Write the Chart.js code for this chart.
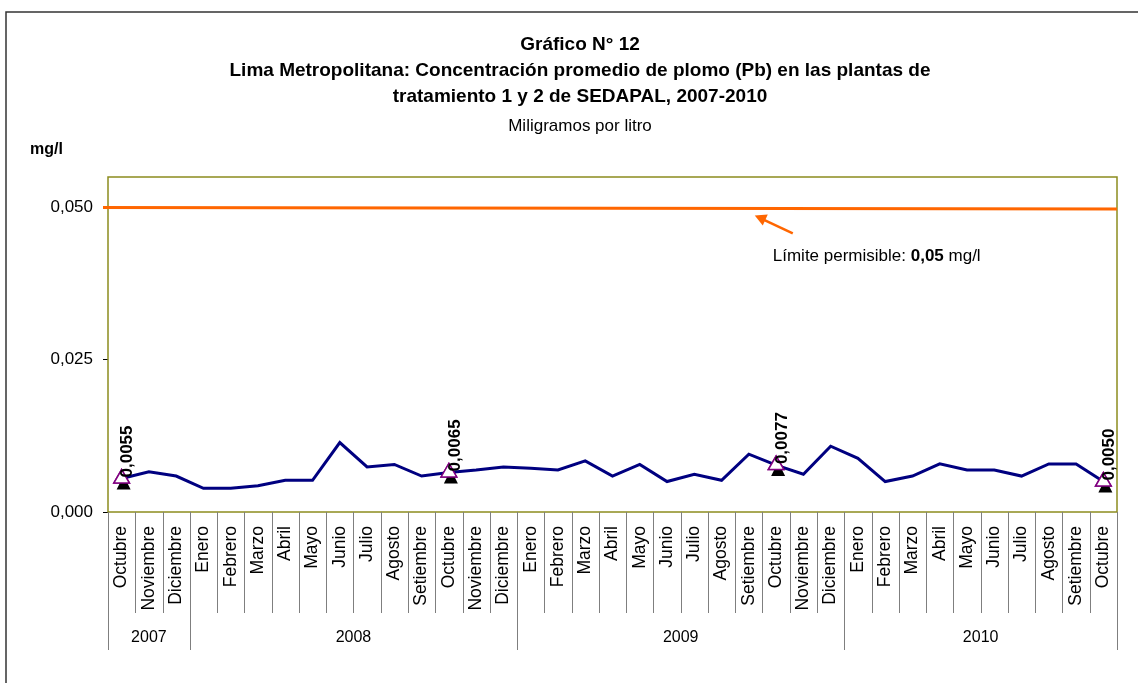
<!DOCTYPE html>
<html lang="es">
<head>
    <meta charset="UTF-8">
    <title>Gráfico N° 12 - Plomo SEDAPAL</title>
    <script src="https://cdn.jsdelivr.net/npm/chart.js"></script>
    <style>
        body {
            margin: 0;
            padding: 0;
            background: #ffffff;
        }
        #wrap {
            width: 1138px;
            height: 683px;
        }
    </style>
</head>
<body>
    <div id="wrap">
        <canvas id="leadChart" width="1138" height="683"></canvas>
    </div>

    <script>
        // Meses (oct 2007 - oct 2010)
        const months = [
            'Octubre', 'Noviembre', 'Diciembre',
            'Enero', 'Febrero', 'Marzo', 'Abril', 'Mayo', 'Junio', 'Julio', 'Agosto', 'Setiembre', 'Octubre', 'Noviembre', 'Diciembre',
            'Enero', 'Febrero', 'Marzo', 'Abril', 'Mayo', 'Junio', 'Julio', 'Agosto', 'Setiembre', 'Octubre', 'Noviembre', 'Diciembre',
            'Enero', 'Febrero', 'Marzo', 'Abril', 'Mayo', 'Junio', 'Julio', 'Agosto', 'Setiembre', 'Octubre'
        ];
        const years = ['2007', '2008', '2009', '2010'];
        const monthsPerYear = [3, 12, 12, 10];

        // Concentracion promedio de plomo (mg/l)
        const leadValues = [
            0.0055, 0.0066, 0.0059,
            0.0039, 0.0039, 0.0043, 0.0052, 0.0052, 0.0114, 0.0074, 0.0078, 0.0059, 0.0065, 0.0069, 0.0074,
            0.0072, 0.0069, 0.0084, 0.0059, 0.0078, 0.0050, 0.0062, 0.0052, 0.0095, 0.0077, 0.0062, 0.0108,
            0.0088, 0.0050, 0.0059, 0.0079, 0.0069, 0.0069, 0.0059, 0.0079, 0.0079, 0.0050
        ];
        // puntos marcados (octubre de cada año)
        const markerValues = [
            0.0055, null, null,
            null, null, null, null, null, null, null, null, null, 0.0065, null, null,
            null, null, null, null, null, null, null, null, null, 0.0077, null, null,
            null, null, null, null, null, null, null, null, null, 0.0050
        ];
        const markerLabels = ['0,0055', '0,0065', '0,0077', '0,0050'];
        const limitValue = 0.05;
        const yTicks = [0, 0.025, 0.05];

        const FONT = "'Liberation Sans', Arial, sans-serif";
        const NARROW = "'Liberation Sans Narrow', 'Liberation Sans', Arial, sans-serif";

        const decorations = {
            id: 'decorations',
            beforeDraw(chart) {
                const ctx = chart.ctx;
                ctx.save();
                // marco exterior
                ctx.strokeStyle = '#333333';
                ctx.lineWidth = 1.5;
                ctx.beginPath();
                ctx.moveTo(6, 683);
                ctx.lineTo(6, 12);
                ctx.lineTo(1138, 12);
                ctx.stroke();
                // unidad
                ctx.fillStyle = '#000';
                ctx.font = 'bold 16px ' + FONT;
                ctx.textBaseline = 'middle';
                ctx.fillText('mg/l', 30, 150);
                ctx.restore();
            },
            beforeDatasetsDraw(chart) {
                const ctx = chart.ctx;
                const area = chart.chartArea;
                const x = chart.scales.x;
                const y = chart.scales.y;
                ctx.save();
                // marco del area de grafico
                ctx.strokeStyle = '#8c8c1e';
                ctx.lineWidth = 1.5;
                ctx.strokeRect(area.left, area.top, area.right - area.left, area.bottom - area.top);

                // separadores de meses y años
                const half = (x.getPixelForValue(1) - x.getPixelForValue(0)) / 2;
                const yearStarts = [0];
                monthsPerYear.forEach((n, i) => yearStarts.push(yearStarts[i] + n));
                ctx.strokeStyle = '#7f7f7f';
                ctx.lineWidth = 1;
                for (let i = 0; i <= months.length; i++) {
                    const px = Math.round(x.getPixelForValue(0) - half + i * 2 * half) + 0.5;
                    const long = yearStarts.includes(i);
                    ctx.beginPath();
                    ctx.moveTo(px, area.bottom);
                    ctx.lineTo(px, area.bottom + (long ? 138 : 101));
                    ctx.stroke();
                }
                ctx.fillStyle = '#000';
                ctx.font = '16px ' + FONT;
                ctx.textAlign = 'center';
                ctx.textBaseline = 'middle';
                years.forEach((yr, i) => {
                    const a = x.getPixelForValue(yearStarts[i]) - half;
                    const b = x.getPixelForValue(yearStarts[i + 1] - 1) + half;
                    ctx.fillText(yr, (a + b) / 2, area.bottom + 126);
                });

                // limite permisible
                const ly = y.getPixelForValue(limitValue);
                ctx.strokeStyle = '#ff6600';
                ctx.lineWidth = 3;
                ctx.beginPath();
                ctx.moveTo(area.left - 5, ly);
                ctx.lineTo(area.right, ly + 1.5);
                ctx.stroke();

                // flecha
                const tipX = area.left + 0.641 * (area.right - area.left);
                const tipY = ly + 8;
                ctx.lineWidth = 2.5;
                ctx.beginPath();
                ctx.moveTo(tipX + 38, tipY + 18);
                ctx.lineTo(tipX + 6, tipY + 3);
                ctx.stroke();
                ctx.fillStyle = '#ff6600';
                ctx.beginPath();
                ctx.moveTo(tipX, tipY);
                ctx.lineTo(tipX + 13, tipY - 1);
                ctx.lineTo(tipX + 8, tipY + 10);
                ctx.closePath();
                ctx.fill();

                // texto del limite
                ctx.fillStyle = '#000';
                ctx.textAlign = 'left';
                ctx.textBaseline = 'middle';
                let tx = tipX + 18;
                const ty = ly + 49;
                ctx.font = '17px ' + FONT;
                ctx.fillText('Límite permisible: ', tx, ty);
                tx += ctx.measureText('Límite permisible: ').width;
                ctx.font = 'bold 17px ' + FONT;
                ctx.fillText('0,05', tx, ty);
                tx += ctx.measureText('0,05 ').width;
                ctx.font = '17px ' + FONT;
                ctx.fillText('mg/l', tx, ty);
                ctx.restore();
            },
            afterDatasetsDraw(chart) {
                const ctx = chart.ctx;
                const meta = chart.getDatasetMeta(1);
                ctx.save();
                let k = 0;
                meta.data.forEach((pt, i) => {
                    if (markerValues[i] === null) return;
                    // sombra negra del marcador
                    ctx.fillStyle = '#000';
                    ctx.beginPath();
                    ctx.moveTo(pt.x + 2, pt.y - 3);
                    ctx.lineTo(pt.x + 9, pt.y + 11);
                    ctx.lineTo(pt.x - 5, pt.y + 11);
                    ctx.closePath();
                    ctx.fill();
                    pt.draw(ctx, chart.chartArea);
                    // etiqueta vertical
                    ctx.save();
                    ctx.translate(pt.x + 6, pt.y - 1);
                    ctx.rotate(-Math.PI / 2);
                    ctx.font = 'bold 17px ' + FONT;
                    ctx.textAlign = 'left';
                    ctx.textBaseline = 'middle';
                    ctx.fillStyle = '#000';
                    ctx.fillText(markerLabels[k++], 0, 0);
                    ctx.restore();
                });
                ctx.restore();
            }
        };

        new Chart(document.getElementById('leadChart'), {
            type: 'line',
            data: {
                labels: months,
                datasets: [
                    {
                        data: leadValues,
                        borderColor: '#000080',
                        borderWidth: 3,
                        pointRadius: 0,
                        tension: 0
                    },
                    {
                        data: markerValues,
                        showLine: false,
                        pointStyle: 'triangle',
                        pointRadius: 9,
                        pointBackgroundColor: '#ffffff',
                        pointBorderColor: '#800080',
                        pointBorderWidth: 1.5
                    }
                ]
            },
            options: {
                responsive: false,
                animation: false,
                layout: {
                    padding: { left: 43, right: 21, top: 0, bottom: 0 }
                },
                plugins: {
                    legend: { display: false },
                    tooltip: { enabled: false },
                    title: {
                        display: true,
                        text: [
                            'Gráfico N° 12',
                            'Lima Metropolitana: Concentración promedio de plomo (Pb) en las plantas de',
                            'tratamiento 1 y 2 de SEDAPAL, 2007-2010'
                        ],
                        color: '#000',
                        font: { family: NARROW, size: 19, weight: 'bold', lineHeight: 26 / 19 },
                        padding: { top: 32, bottom: 0 }
                    },
                    subtitle: {
                        display: true,
                        text: 'Miligramos por litro',
                        color: '#000',
                        font: { family: NARROW, size: 17, lineHeight: 20 / 17 },
                        padding: { top: 6, bottom: 41 }
                    }
                },
                scales: {
                    x: {
                        offset: true,
                        grid: { display: false },
                        border: { display: false },
                        ticks: {
                            autoSkip: false,
                            minRotation: 90,
                            maxRotation: 90,
                            padding: 6,
                            color: '#000',
                            font: { family: FONT, size: 17.5 }
                        },
                        afterFit: s => { s.height = 171; }
                    },
                    y: {
                        min: 0,
                        max: 0.055,
                        afterBuildTicks: s => { s.ticks = yTicks.map(v => ({ value: v })); },
                        grid: {
                            drawOnChartArea: false,
                            drawTicks: true,
                            tickLength: 5,
                            color: '#000'
                        },
                        border: { display: false },
                        ticks: {
                            padding: 10,
                            color: '#000',
                            font: { family: FONT, size: 17 },
                            callback: v => v.toFixed(3).replace('.', ',')
                        },
                        afterFit: s => { s.width = 65; }
                    }
                }
            },
            plugins: [decorations]
        });
    </script>
</body>
</html>
